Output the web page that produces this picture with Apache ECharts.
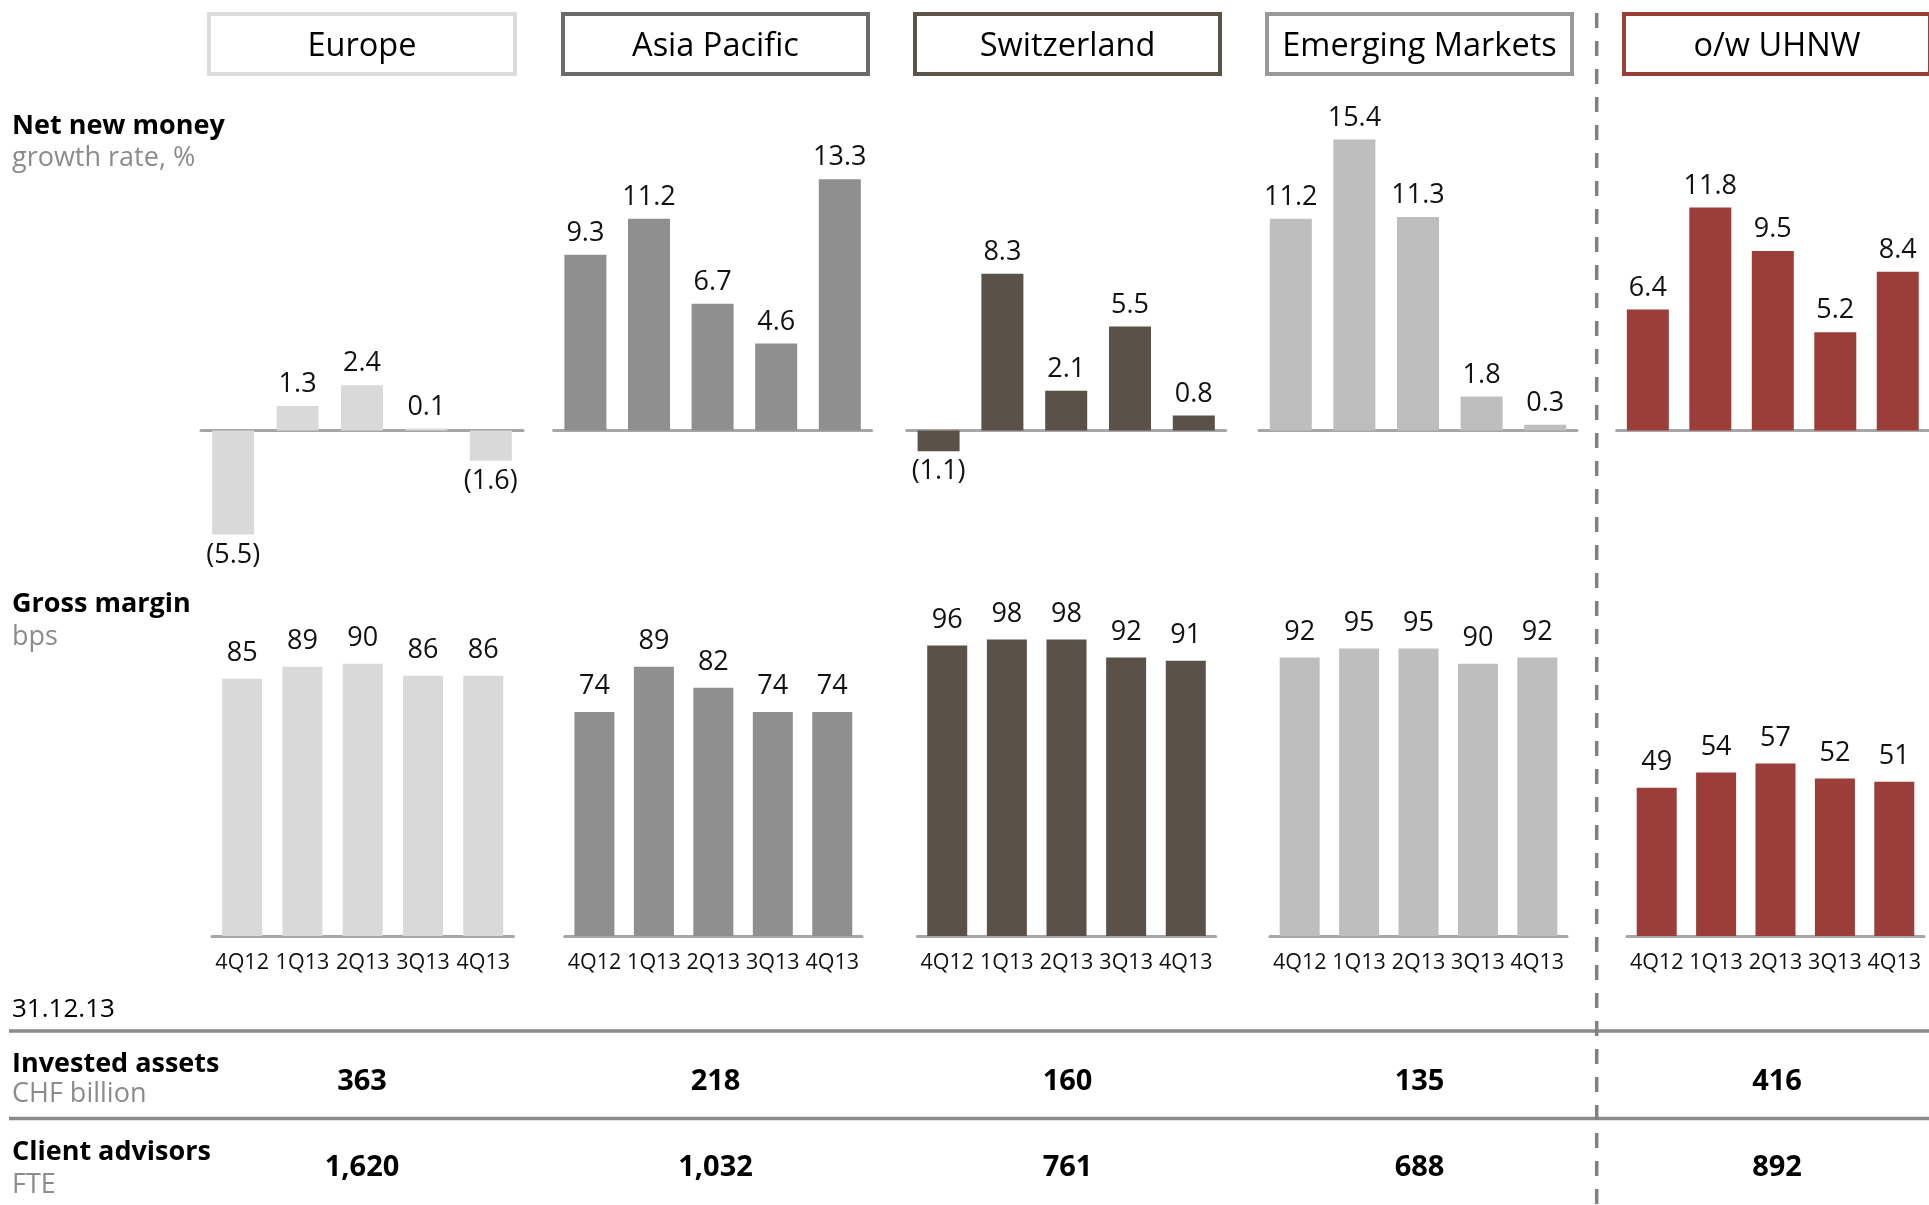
<!DOCTYPE html>
<html>
<head>
<meta charset="utf-8">
<title>Wealth Management by region</title>
<script src="https://cdn.jsdelivr.net/npm/echarts@6/dist/echarts.min.js"></script>
<style>
  html, body { margin: 0; padding: 0; background: #ffffff; }
  #chart { width: 1929px; height: 1205px; }
</style>
</head>
<body>
<div id="chart"></div>
<script>
// ---- data ----
const regions = ['Europe', 'Asia Pacific', 'Switzerland', 'Emerging Markets', 'o/w UHNW'];
const quarters = ['4Q12', '1Q13', '2Q13', '3Q13', '4Q13'];

// Net new money growth rate, %
const nnmEurope = [-5.5, 1.3, 2.4, 0.1, -1.6];
const nnmAsiaPacific = [9.3, 11.2, 6.7, 4.6, 13.3];
const nnmSwitzerland = [-1.1, 8.3, 2.1, 5.5, 0.8];
const nnmEmerging = [11.2, 15.4, 11.3, 1.8, 0.3];
const nnmUhnw = [6.4, 11.8, 9.5, 5.2, 8.4];

// Gross margin, bps
const gmEurope = [85, 89, 90, 86, 86];
const gmAsiaPacific = [74, 89, 82, 74, 74];
const gmSwitzerland = [96, 98, 98, 92, 91];
const gmEmerging = [92, 95, 95, 90, 92];
const gmUhnw = [49, 54, 57, 52, 51];

// 31.12.13 figures
const investedAssets = [363, 218, 160, 135, 416];   // CHF billion
const clientAdvisors = [1620, 1032, 761, 688, 892]; // FTE

const nnmSeries = [nnmEurope, nnmAsiaPacific, nnmSwitzerland, nnmEmerging, nnmUhnw];
const gmSeries = [gmEurope, gmAsiaPacific, gmSwitzerland, gmEmerging, gmUhnw];

// ---- styling ----
const FONT = '"Open Sans", "Noto Sans", sans-serif';
const barColors = ['#d9d9d9', '#8f8f8f', '#5a5148', '#bebebe', '#9b3d38'];
const boxColors = ['#dcdcdc', '#6b6b6b', '#5c544b', '#9a9a9a', '#9b3d38'];
const axisGray = '#a6a6a6';
const ruleGray = '#8a8a8a';
const subGray = '#8c8c8c';

// panel geometry
const topGridLeft = [201, 553.6, 906.7, 1259, 1616.6];
const topGridWidth = [322, 318, 319, 318, 318.5];
const botGridLeft = [212, 564.7, 917.4, 1270, 1627];
const botGridWidth = [301.4, 297.3, 298.2, 297, 297];
const boxLeft = [207, 561, 913, 1265, 1622];
const boxRight = [517, 870, 1222, 1574, 1932];

// net new money scale: 18.9 px per %, zero line at y=430.5
const NNM_MIN = -6, NNM_MAX = 16, NNM_PX = 18.9, NNM_ZERO = 430.5;
// gross margin scale: 3.025 px per bp, baseline at y=935.9
const GM_MIN = 0, GM_MAX = 100, GM_PX = 3.025, GM_ZERO = 935.9;

function fmtNnm(v) {
  return v < 0 ? '(' + Math.abs(v).toFixed(1) + ')' : v.toFixed(1);
}
function fmtThousands(v) {
  return String(v).replace(/\B(?=(\d{3})+(?!\d))/g, ',');
}

const grids = [], xAxes = [], yAxes = [], series = [];

regions.forEach(function (name, i) {
  // top row: net new money
  grids.push({
    left: topGridLeft[i], width: topGridWidth[i],
    top: NNM_ZERO - NNM_MAX * NNM_PX, height: (NNM_MAX - NNM_MIN) * NNM_PX,
    containLabel: false
  });
  // bottom row: gross margin
  grids.push({
    left: botGridLeft[i], width: botGridWidth[i],
    top: GM_ZERO - GM_MAX * GM_PX, height: (GM_MAX - GM_MIN) * GM_PX,
    containLabel: false
  });

  const gTop = i * 2, gBot = i * 2 + 1;

  xAxes.push({
    type: 'category', gridIndex: gTop, data: quarters,
    axisLine: { onZero: true, lineStyle: { color: axisGray, width: 3 } },
    axisTick: { show: false }, axisLabel: { show: false }, splitLine: { show: false }
  });
  xAxes.push({
    type: 'category', gridIndex: gBot, data: quarters,
    axisLine: { lineStyle: { color: axisGray, width: 3 } },
    axisTick: { show: false },
    axisLabel: { color: '#111', fontFamily: FONT, fontSize: 21.5, margin: 16, interval: 0 },
    splitLine: { show: false }
  });
  yAxes.push({
    type: 'value', gridIndex: gTop, min: NNM_MIN, max: NNM_MAX, show: false,
    splitLine: { show: false }
  });
  yAxes.push({
    type: 'value', gridIndex: gBot, min: GM_MIN, max: GM_MAX, show: false,
    splitLine: { show: false }
  });

  series.push({
    type: 'bar', name: name + ' net new money',
    xAxisIndex: gTop, yAxisIndex: gTop,
    barWidth: 42,
    itemStyle: { color: barColors[i] },
    data: nnmSeries[i].map(function (v) {
      return {
        value: v,
        label: v < 0 ? { position: 'bottom', distance: 7 } : { position: 'top', distance: 8 }
      };
    }),
    label: {
      show: true, color: '#111', fontFamily: FONT, fontSize: 27,
      formatter: function (p) { return fmtNnm(p.value); }
    }
  });
  series.push({
    type: 'bar', name: name + ' gross margin',
    xAxisIndex: gBot, yAxisIndex: gBot,
    barWidth: 40,
    itemStyle: { color: barColors[i] },
    data: gmSeries[i],
    label: {
      show: true, position: 'top', distance: 12,
      color: '#111', fontFamily: FONT, fontSize: 27
    }
  });
});

// ---- text, boxes and rules ----
const graphics = [];

function addText(x, y, text, opts) {
  graphics.push({
    type: 'text', x: x, y: y, silent: true,
    style: Object.assign({
      text: text, fontFamily: FONT, fontSize: 27, fill: '#000',
      textAlign: 'left', textVerticalAlign: 'middle'
    }, opts || {})
  });
}

// region header boxes
regions.forEach(function (name, i) {
  graphics.push({
    type: 'rect', silent: true,
    shape: { x: boxLeft[i] + 2, y: 14, width: boxRight[i] - boxLeft[i] - 4, height: 60 },
    style: { fill: '#ffffff', stroke: boxColors[i], lineWidth: 4 }
  });
  addText((boxLeft[i] + boxRight[i]) / 2, 47, name, { fontSize: 32.5, textAlign: 'center' });
});

// row titles
addText(12, 126, 'Net new money', { fontWeight: 'bold' });
addText(12, 158, 'growth rate, %', { fill: subGray });
addText(12, 604, 'Gross margin', { fontWeight: 'bold' });
addText(12, 637, 'bps', { fill: subGray });
addText(12, 1010, '31.12.13', { fontSize: 26 });
addText(12, 1064, 'Invested assets', { fontWeight: 'bold' });
addText(12, 1094, 'CHF billion', { fill: subGray });
addText(12, 1152, 'Client advisors', { fontWeight: 'bold' });
addText(12, 1185, 'FTE', { fill: subGray });

// table rules
[1031, 1118.5].forEach(function (y) {
  graphics.push({
    type: 'line', silent: true,
    shape: { x1: 9, y1: y, x2: 1929, y2: y },
    style: { stroke: ruleGray, lineWidth: 3.5 }
  });
});

// table values
regions.forEach(function (name, i) {
  const cx = (boxLeft[i] + boxRight[i]) / 2;
  addText(cx, 1082, fmtThousands(investedAssets[i]), { fontWeight: 'bold', fontSize: 29, textAlign: 'center' });
  addText(cx, 1168, fmtThousands(clientAdvisors[i]), { fontWeight: 'bold', fontSize: 29, textAlign: 'center' });
});

// divider between regions and the UHNW subset
graphics.push({
  type: 'line', silent: true,
  shape: { x1: 1596.7, y1: 13, x2: 1596.7, y2: 1205 },
  style: { stroke: '#808080', lineWidth: 3.5, lineDash: [15, 13] }
});

const chart = echarts.init(document.getElementById('chart'), null, { renderer: 'canvas' });
chart.setOption({
  animation: false,
  backgroundColor: '#ffffff',
  grid: grids,
  xAxis: xAxes,
  yAxis: yAxes,
  series: series,
  graphic: graphics
});
</script>
</body>
</html>
